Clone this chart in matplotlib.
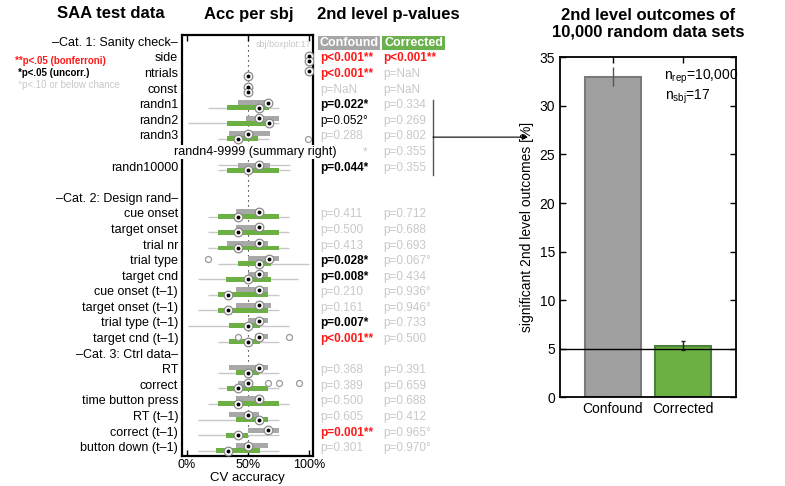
import numpy as np
import matplotlib
matplotlib.use('Agg')
import matplotlib.pyplot as plt
from matplotlib.patches import Rectangle
import matplotlib.transforms as mtransforms

plt.rcParams['font.family'] = ['Liberation Sans', 'DejaVu Sans']
plt.rcParams['mathtext.default'] = 'regular'

# ---------------- data ----------------
row_labels = ['–Cat. 1: Sanity check–', 'side', 'ntrials', 'const', 'randn1', 'randn2', 'randn3',
              'randn4-9999 (summary right)', 'randn10000', '',
              '–Cat. 2: Design rand–', 'cue onset', 'target onset', 'trial nr', 'trial type',
              'target cnd', 'cue onset (t–1)', 'target onset (t–1)', 'trial type (t–1)',
              'target cnd (t–1)', '–Cat. 3: Ctrl data–', 'RT', 'correct', 'time button press',
              'RT (t–1)', 'correct (t–1)', 'button down (t–1)']
summary_row = 'randn4-9999 (summary right)'

data_rows = ['side', 'ntrials', 'const', 'randn1', 'randn2', 'randn3', 'randn10000',
             'cue onset', 'target onset', 'trial nr', 'trial type', 'target cnd',
             'cue onset (t–1)', 'target onset (t–1)', 'trial type (t–1)', 'target cnd (t–1)',
             'RT', 'correct', 'time button press', 'RT (t–1)', 'correct (t–1)', 'button down (t–1)']
nan = np.nan
# Confound (grey) accuracy per subject, %
conf_q1 = [nan, nan, nan, 42, 48, 34, 42, 40, 40, 33, 50, 50, 40, 40, 50, 56, 34, 42, 40, 34, 50, 40]
conf_q3 = [nan, nan, nan, 66, 75, 68, 68, 58.5, 58.5, 66.6, 75, 66.6, 66.6, 69, 66.6, 66.6, 66.6, 50, 58.5, 58.5, 75, 66.6]
conf_med = [99.5, 99.5, 50, 66, 58.5, 50, 58.5, 58.5, 58.5, 58.5, 67, 58.5, 58.5, 58.5, 58.5, 58.5, 58.5, 50, 58.5, 50, 66.6, 50]
conf_wlo = [nan, nan, nan, nan, nan, nan, 25, nan, nan, nan, nan, nan, nan, nan, nan, nan, nan, nan, nan, nan, nan, nan]
conf_whi = [nan, nan, nan, nan, nan, nan, 84, nan, nan, nan, nan, nan, nan, nan, nan, nan, nan, nan, nan, nan, nan, nan]
conf_out = [[], [], [], [], [], [], [], [], [], [], [17], [], [], [], [], [41.5, 83], [], [66.6, 75, 91.8], [], [], [], []]
# Corrected (green) accuracy per subject, %
corr_q1 = [nan, nan, nan, 33, 33, 33, 33, 25.7, 25.7, 25.7, 42, 31.7, 25.7, 25.7, 34, 34, 40, 33, 25.7, 40, 31.7, 23.5]
corr_q3 = [nan, nan, nan, 67, 68, 58, 75, 75, 75, 75, 69, 69, 66.6, 66.6, 60, 60, 58.5, 66.6, 75, 66.6, 50, 60]
corr_med = [99.5, 50, 50, 58.5, 67, 41.5, 50, 41.5, 41.5, 41.5, 58.5, 50, 33.3, 33.3, 50, 50, 50, 41.5, 41.5, 58.5, 41.5, 33.3]
corr_wlo = [nan, nan, nan, 17, 1, 25, 25, 17, 17, 17, 25.7, 9.3, 17, 9.3, 1, 25.7, 25.7, 25.7, 17, 9.3, 9.3, 9.3]
corr_whi = [nan, nan, nan, 75, 75, 67, 84, 83, 83, 83, 99.5, 91, 75, 75, 83, 75, 75, 75, 83, 75, 75, 75]
corr_out = [[], [], [], [], [], [99], [], [], [], [], [], [], [], [], [], [], [], [], [], [], [], []]

# 2nd level p-values
p_rows = ['side', 'ntrials', 'const', 'randn1', 'randn2', 'randn3', summary_row, 'randn10000',
          'cue onset', 'target onset', 'trial nr', 'trial type', 'target cnd',
          'cue onset (t–1)', 'target onset (t–1)', 'trial type (t–1)', 'target cnd (t–1)',
          'RT', 'correct', 'time button press', 'RT (t–1)', 'correct (t–1)', 'button down (t–1)']
conf_p = ['p<0.001**', 'p<0.001**', 'p=NaN', 'p=0.022*', 'p=0.052°', 'p=0.288', '*', 'p=0.044*',
          'p=0.411', 'p=0.500', 'p=0.413', 'p=0.028*', 'p=0.008*', 'p=0.210', 'p=0.161',
          'p=0.007*', 'p<0.001**', 'p=0.368', 'p=0.389', 'p=0.500', 'p=0.605', 'p=0.001**', 'p=0.301']
corr_p = ['p<0.001**', 'p=NaN', 'p=NaN', 'p=0.334', 'p=0.269', 'p=0.802', 'p=0.355', 'p=0.355',
          'p=0.712', 'p=0.688', 'p=0.693', 'p=0.067°', 'p=0.434', 'p=0.936°', 'p=0.946°',
          'p=0.733', 'p=0.500', 'p=0.391', 'p=0.659', 'p=0.688', 'p=0.412', 'p=0.965°', 'p=0.970°']

# summary of 10,000 random data sets
bar_labels = ['Confound', 'Corrected']
bar_vals = [33.0, 5.3]
bar_err = [1.0, 0.45]
n_rep = '10,000'
n_sbj = '17'

# ---------------- style ----------------
GREY = '#a8a8a8'
GREEN = '#6cb043'
LIGHT = '#c8c8c8'
RED = '#ff1a1a'

W, H = 785, 486
fig = plt.figure(figsize=(W / 100, H / 100), dpi=100)


def fx(px):
    return px / W


def fy(py):
    return 1 - py / H


# ---------------- left panel ----------------
ax = fig.add_axes([fx(182), fy(456), fx(313) - fx(182), fy(35) - fy(456)])
ax.set_xlim(-4, 103)
ax.set_ylim(len(row_labels) - 0.5, -0.5)
blend = mtransforms.blended_transform_factory(ax.transAxes, ax.transData)

ax.axvline(50, color='k', ls=(0, (1, 3.5)), lw=0.8, zorder=1)

bh = 0.32
off = 0.16


def draw_group(y, q1, q3, med, wlo, whi, outs, color):
    if not np.isnan(wlo):
        ax.plot([wlo, whi], [y, y], color=LIGHT, lw=1.0, zorder=2, solid_capstyle='butt')
    if not np.isnan(q1):
        ax.add_patch(Rectangle((q1, y - bh / 2), q3 - q1, bh, facecolor=color,
                               edgecolor='none', zorder=3))
    for o in outs:
        ax.plot(o, y, 'o', ms=4.3, mfc='white', mec='#9a9a9a', mew=0.9, zorder=4)
    ax.plot(med, y, 'o', ms=6.2, mfc='white', mec='#8a8a8a', mew=0.9, zorder=5)
    ax.plot(med, y, 'o', ms=1.8, color='k', zorder=6)


for i, name in enumerate(data_rows):
    y = row_labels.index(name)
    draw_group(y - off, conf_q1[i], conf_q3[i], conf_med[i], conf_wlo[i], conf_whi[i],
               conf_out[i], GREY)
    draw_group(y + off, corr_q1[i], corr_q3[i], corr_med[i], corr_wlo[i], corr_whi[i],
               corr_out[i], GREEN)

for y, lab in enumerate(row_labels):
    if lab == summary_row:
        ax.text(0.557, y, lab, transform=blend, ha='center', va='center', fontsize=9,
                bbox=dict(facecolor='white', edgecolor='none', pad=1.0), zorder=20, clip_on=False)
    elif lab:
        ax.text(-0.03, y, lab, transform=blend, ha='right', va='center', fontsize=9, clip_on=False)

ax.text(0.99, 0.1, 'sbj/boxplot:17', transform=blend, ha='right', va='center', fontsize=6.5,
        color=LIGHT)

ax.set_yticks([])
ax.set_xticks([0, 50, 100])
ax.set_xticklabels(['0%', '50%', '100%'])
ax.tick_params(axis='x', direction='in', top=True, length=4, width=1, labelsize=9, pad=2)
ax.set_xlabel('CV accuracy', fontsize=9.5, labelpad=1)
for s in ax.spines.values():
    s.set_linewidth(1.6)


# p-value columns
def pstyle(s, col):
    if not s.startswith('p'):
        return LIGHT, 'normal'
    if s.endswith('**'):
        return RED, 'bold'
    if s.endswith('*'):
        return 'k', 'bold'
    if s.endswith('°') and col == 0:
        return 'k', 'normal'
    return LIGHT, 'normal'


x_conf = (320 - 182) / 131
x_corr = (383 - 182) / 131
for i, name in enumerate(p_rows):
    y = row_labels.index(name)
    c, w = pstyle(conf_p[i], 0)
    xc = x_conf if conf_p[i].startswith('p') else (363 - 182) / 131
    ax.text(xc, y, conf_p[i], transform=blend, ha='left', va='center', fontsize=8.5,
            color=c, fontweight=w, clip_on=False)
    c, w = pstyle(corr_p[i], 1)
    ax.text(x_corr, y, corr_p[i], transform=blend, ha='left', va='center', fontsize=8.5,
            color=c, fontweight=w, clip_on=False)

# column headers
for (l, r), lab, col in [((318, 380), 'Confound', '#a6a6a6'), ((382, 445), 'Corrected', '#6ab04c')]:
    x0 = (l - 182) / 131
    x1 = (r - 182) / 131
    ax.add_patch(Rectangle((x0, -0.42), x1 - x0, 0.86, transform=blend, facecolor=col,
                           edgecolor='none', clip_on=False, zorder=3))
    ax.text((x0 + x1) / 2, 0.02, lab, transform=blend, ha='center', va='center', fontsize=9,
            fontweight='bold', color='white', clip_on=False, zorder=4)

# bracket and arrow to summary panel
xb = (433 - 182) / 131
ax.plot([xb, xb], [row_labels.index('randn1') - 0.35, row_labels.index('randn10000') + 0.5],
        transform=blend, color='#555555', lw=1.0, clip_on=False)
ya = row_labels.index('randn3') + 0.05
ax.annotate('', xy=((528 - 182) / 131, ya), xytext=(xb, ya), xycoords=blend, textcoords=blend,
            arrowprops=dict(arrowstyle='-|>', color='k', lw=0.8, mutation_scale=8,
                            shrinkA=0, shrinkB=0), annotation_clip=False)

# titles and legend
fig.text(fx(110.5), fy(14), 'SAA test data', ha='center', va='center', fontsize=12, fontweight='bold')
fig.text(fx(249), fy(14), 'Acc per sbj', ha='center', va='center', fontsize=12, fontweight='bold')
fig.text(fx(388.5), fy(14), '2nd level p-values', ha='center', va='center', fontsize=12,
         fontweight='bold')
fig.text(fx(15), fy(61), '**p<.05 (bonferroni)', ha='left', va='center', fontsize=7,
         fontweight='bold', color=RED)
fig.text(fx(18), fy(73), '*p<.05 (uncorr.)', ha='left', va='center', fontsize=7,
         fontweight='bold', color='k')
fig.text(fx(18), fy(85), '°p<.10 or below chance', ha='left', va='center', fontsize=7,
         color=LIGHT)

# ---------------- right panel ----------------
ax2 = fig.add_axes([fx(560), fy(397.3), fx(736) - fx(560), fy(57.3) - fy(397.3)])
xpos = np.arange(1, len(bar_vals) + 1)
ax2.bar(xpos, bar_vals, width=0.81, color=['#a0a0a0', GREEN], edgecolor=['#7a7a7a', '#4f7f3c'],
        linewidth=1.5, zorder=2)
ax2.errorbar(xpos[:1], bar_vals[:1], yerr=bar_err[:1], fmt='none', ecolor='#555555', lw=1,
             capsize=0, zorder=3)
ax2.errorbar(xpos[1:], bar_vals[1:], yerr=bar_err[1:], fmt='none', ecolor='#222222', lw=1,
             capsize=1.5, zorder=3)
ax2.axhline(5, color='k', lw=1, zorder=4)
ax2.set_xlim(0.245, 2.755)
ax2.set_ylim(0, 35)
ax2.set_yticks(np.arange(0, 36, 5))
ax2.set_xticks(xpos)
ax2.set_xticklabels(bar_labels)
ax2.tick_params(direction='in', top=True, right=True, length=4, width=1, labelsize=10)
ax2.set_ylabel('significant 2nd level outcomes [%]', fontsize=10, labelpad=4)
for s in ax2.spines.values():
    s.set_linewidth(1.3)
ax2.text(0.591, 0.942, 'n$_{rep}$=' + n_rep, transform=ax2.transAxes, ha='left', va='center',
         fontsize=10)
ax2.text(0.597, 0.883, 'n$_{sbj}$=' + n_sbj, transform=ax2.transAxes, ha='left', va='center',
         fontsize=10)
fig.text(fx(648), fy(24), '2nd level outcomes of\n10,000 random data sets', ha='center',
         va='center', fontsize=12, fontweight='bold', linespacing=1.15)

fig.savefig('out.png', dpi=100)
